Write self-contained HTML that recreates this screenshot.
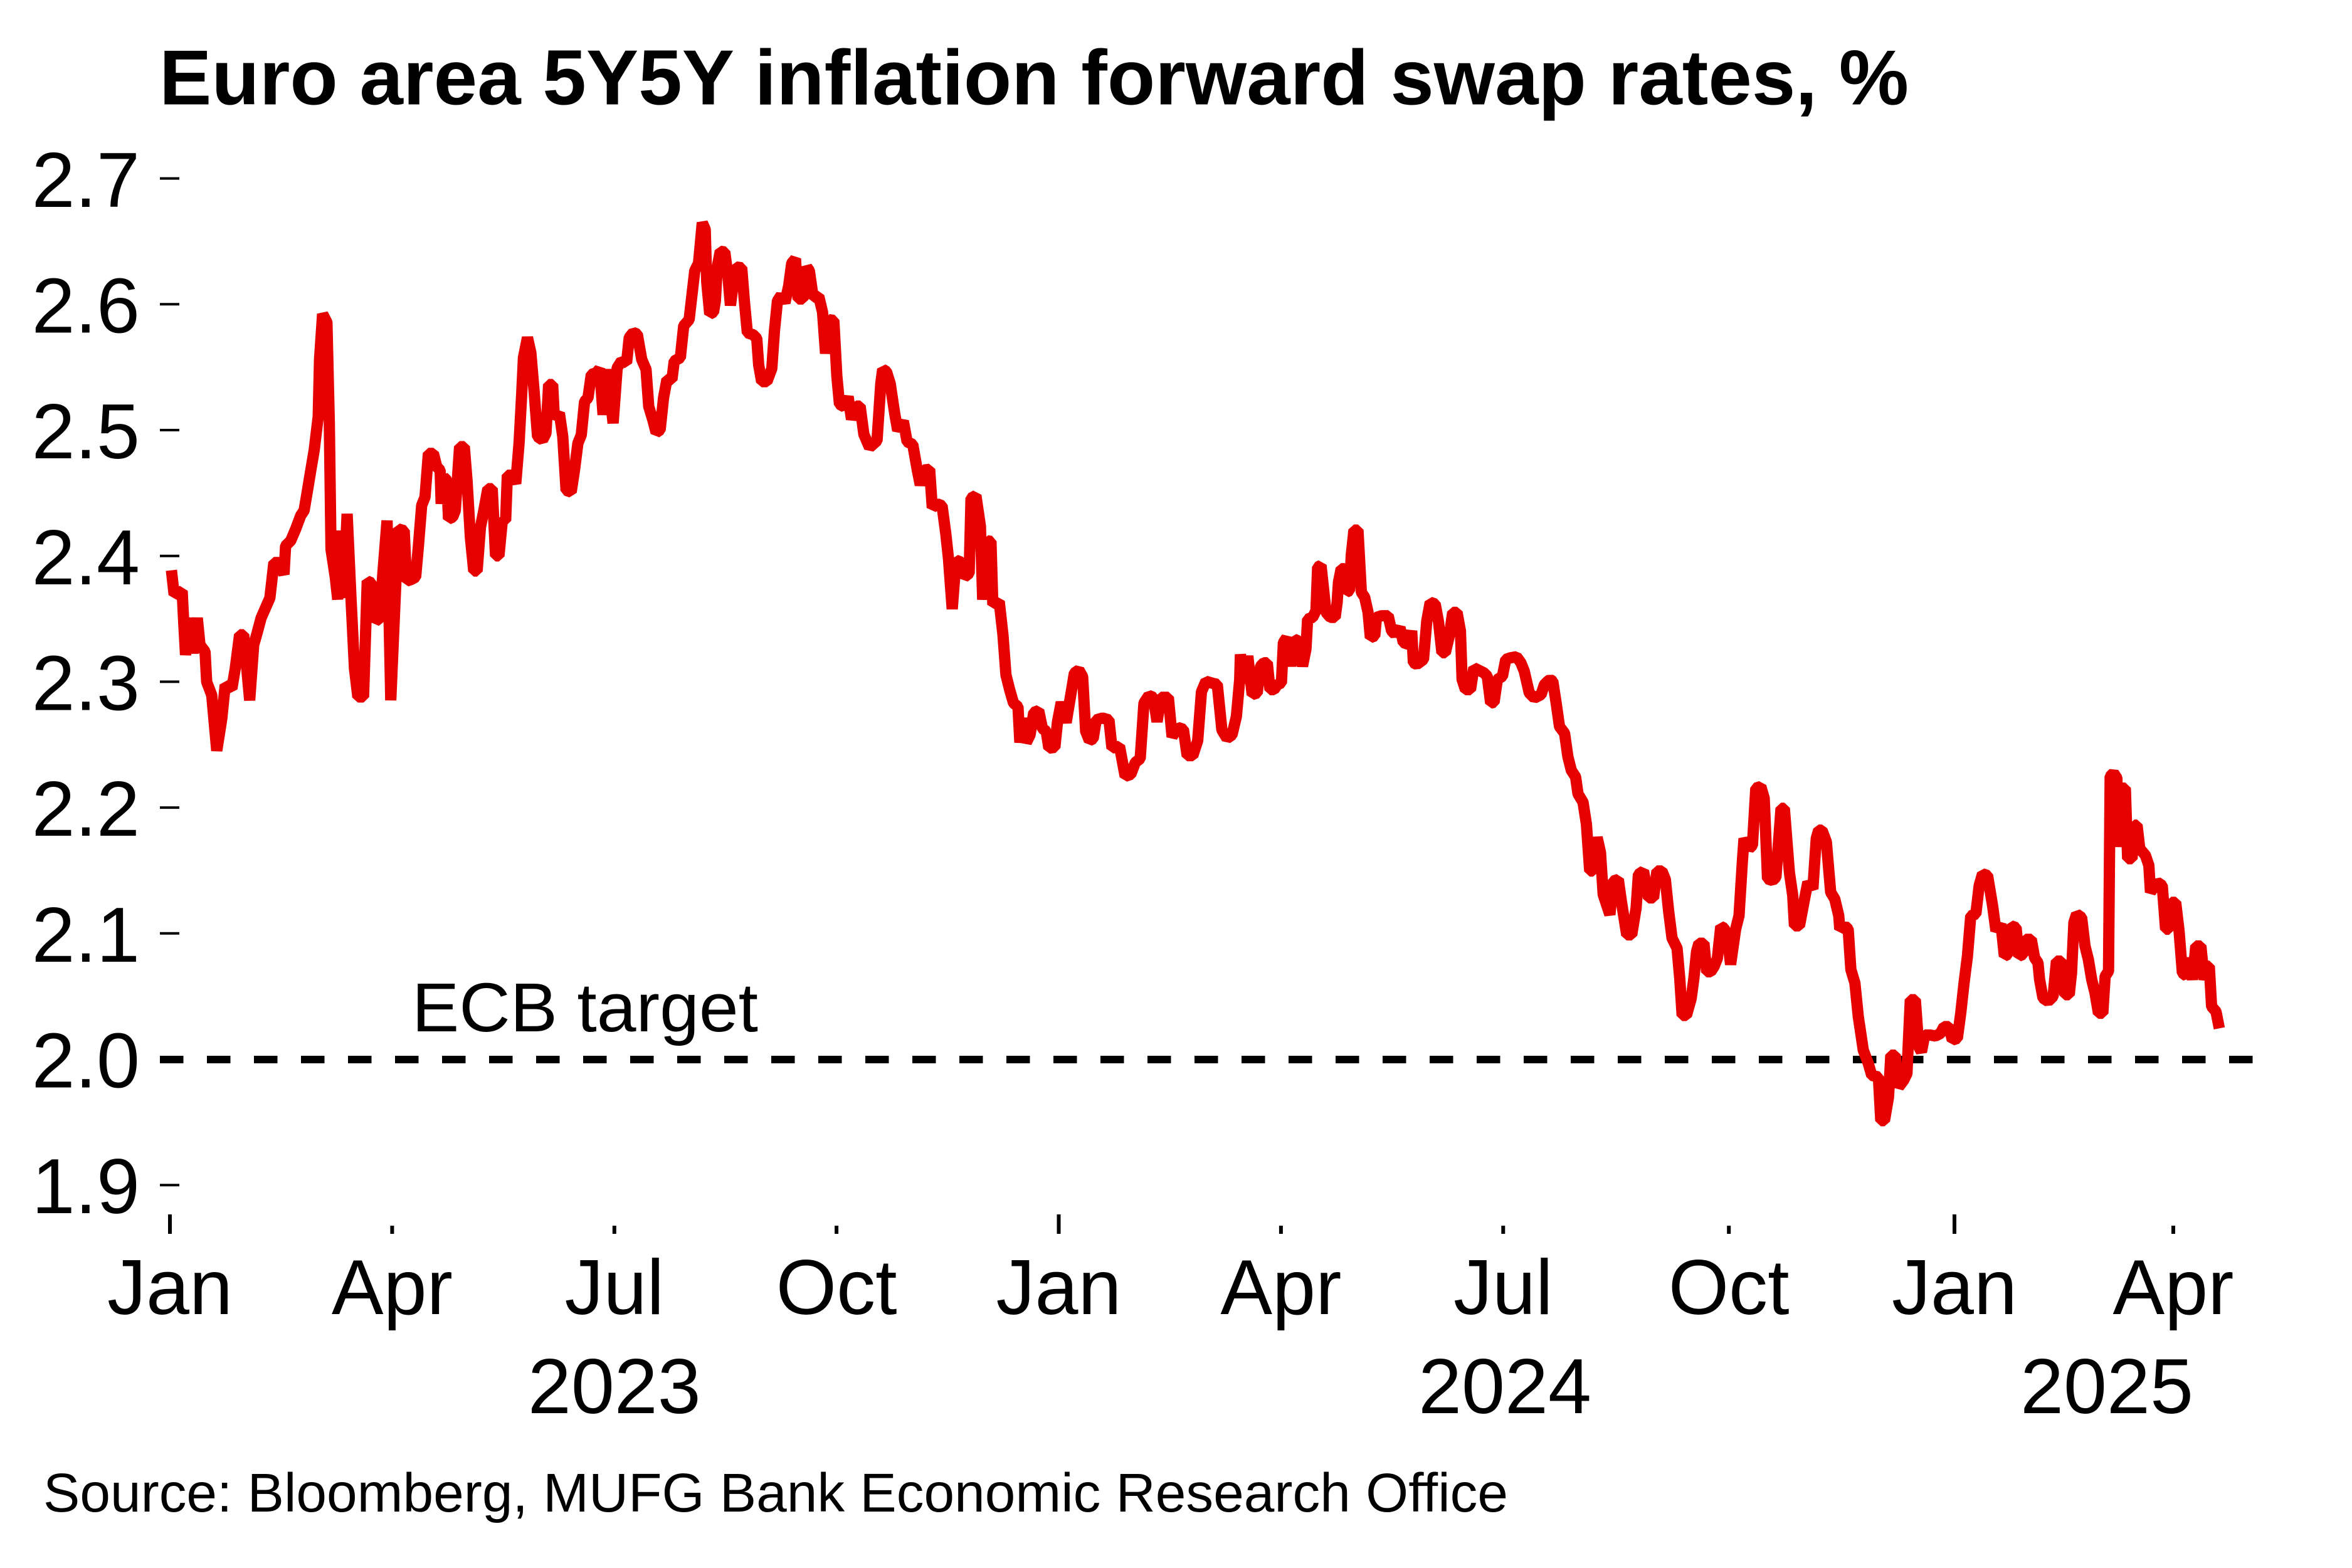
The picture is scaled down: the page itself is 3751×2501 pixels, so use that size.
<!DOCTYPE html>
<html>
<head>
<meta charset="utf-8">
<style>
  html, body { margin: 0; padding: 0; background: #ffffff; }
  svg { display: block; }
  text { font-family: "Liberation Sans", Arial, sans-serif; fill: #000; }
</style>
</head>
<body>
<svg width="3751" height="2501" viewBox="0 0 3751 2501" xmlns="http://www.w3.org/2000/svg">
  <rect x="0" y="0" width="3751" height="2501" fill="#ffffff"/>

  <!-- Title -->
  <text x="254" y="166.5" font-size="124.5" font-weight="bold" textLength="2790" lengthAdjust="spacingAndGlyphs">Euro area 5Y5Y inflation forward swap rates, %</text>

  <!-- Y tick marks -->
  <g stroke="#000" stroke-width="4">
    <line x1="255" y1="284.6" x2="286" y2="284.6"/>
    <line x1="255" y1="485.3" x2="286" y2="485.3"/>
    <line x1="255" y1="686" x2="286" y2="686"/>
    <line x1="255" y1="886.7" x2="286" y2="886.7"/>
    <line x1="255" y1="1087.4" x2="286" y2="1087.4"/>
    <line x1="255" y1="1288.1" x2="286" y2="1288.1"/>
    <line x1="255" y1="1488.8" x2="286" y2="1488.8"/>
    <line x1="255" y1="1890.2" x2="286" y2="1890.2"/>
  </g>

  <!-- Y labels -->
  <g font-size="124" text-anchor="end">
    <text x="223" y="330">2.7</text>
    <text x="223" y="530.5">2.6</text>
    <text x="223" y="731">2.5</text>
    <text x="223" y="932">2.4</text>
    <text x="223" y="1132.5">2.3</text>
    <text x="223" y="1333">2.2</text>
    <text x="223" y="1534">2.1</text>
    <text x="223" y="1734.5">2.0</text>
    <text x="223" y="1935">1.9</text>
  </g>

  <!-- X tick marks -->
  <g stroke="#000" stroke-width="6">
    <line x1="271" y1="1937" x2="271" y2="1968"/>
    <line x1="625.4" y1="1955" x2="625.4" y2="1968"/>
    <line x1="979.8" y1="1955" x2="979.8" y2="1968"/>
    <line x1="1334.1" y1="1955" x2="1334.1" y2="1968"/>
    <line x1="1688.5" y1="1937" x2="1688.5" y2="1968"/>
    <line x1="2042.9" y1="1955" x2="2042.9" y2="1968"/>
    <line x1="2397.3" y1="1955" x2="2397.3" y2="1968"/>
    <line x1="2757.2" y1="1955" x2="2757.2" y2="1968"/>
    <line x1="3117" y1="1937" x2="3117" y2="1968"/>
    <line x1="3466" y1="1955" x2="3466" y2="1968"/>
  </g>

  <!-- Month labels -->
  <g font-size="124" text-anchor="middle">
    <text x="271" y="2096">Jan</text>
    <text x="625.4" y="2096">Apr</text>
    <text x="979.8" y="2096">Jul</text>
    <text x="1334.1" y="2096">Oct</text>
    <text x="1688.5" y="2096">Jan</text>
    <text x="2042.9" y="2096">Apr</text>
    <text x="2397.3" y="2096">Jul</text>
    <text x="2757.2" y="2096">Oct</text>
    <text x="3117" y="2096">Jan</text>
    <text x="3466" y="2096">Apr</text>
  </g>

  <!-- Year labels -->
  <g font-size="124" text-anchor="middle">
    <text x="979.8" y="2254">2023</text>
    <text x="2400" y="2254">2024</text>
    <text x="3360" y="2254">2025</text>
  </g>

  <!-- ECB target dashed line -->
  <line x1="255" y1="1690" x2="3593" y2="1690" stroke="#000" stroke-width="12" stroke-dasharray="37.5 37.5"/>
  <text x="657" y="1645" font-size="110" textLength="552" lengthAdjust="spacingAndGlyphs">ECB target</text>

  <!-- Series -->
  <polyline fill="none" stroke="#e60000" stroke-width="18" stroke-linejoin="bevel" stroke-linecap="butt" points="
273.4,909.6 277.7,948.2 290.5,942.8 293.2,996.4 295.9,1044.6 302.9,985.7 308.2,1041.9 314.6,985.7 318.9,1028.6 327.0,1039.3 329.6,1087.5 337.7,1108.9 345.7,1197.3 353.7,1146.4 359.1,1092.8 369.8,1098.2 375.2,1066.1 382.1,1012.5 388.6,1012.5 398.2,1117.0 404.6,1028.6 410.0,1009.8 416.4,985.7 423.4,969.6 430.4,953.6 436.8,897.3 444.8,897.3 452.9,916.1 455.5,870.5 463.6,862.5 471.6,843.7 479.6,822.3 485.0,814.3 490.4,782.1 495.7,750.0 501.1,717.9 507.5,664.3 509.6,573.2 514.5,500.9 521.4,514.3 525.2,675.0 527.9,875.9 534.8,921.4 538.6,956.2 541.2,846.4 547.7,953.6 553.6,819.6 560.0,958.9 565.3,1066.1 570.7,1111.6 579.8,1111.6 585.7,926.8 592.1,929.5 598.6,991.1 605.5,985.7 610.9,910.7 617.3,830.3 623.2,1117.0 635.0,843.7 644.6,846.4 648.4,926.8 656.4,924.1 662.9,920.3 667.1,873.2 672.5,806.2 677.8,792.8 683.2,723.2 691.2,723.2 696.6,744.6 701.9,750.0 703.6,803.6 707.3,760.7 712.7,766.1 715.3,827.7 721.8,825.0 726.1,814.3 733.0,712.5 740.5,712.5 744.8,766.1 750.2,857.1 755.5,910.7 760.9,910.7 766.2,841.1 771.6,814.3 778.0,779.5 785.0,779.5 790.3,886.6 795.7,886.6 801.1,830.3 806.4,830.3 809.1,758.0 817.1,758.0 822.5,771.4 827.8,707.1 832.1,626.8 834.8,570.5 841.2,538.4 846.6,562.5 852.0,626.8 857.3,696.4 865.3,701.8 870.7,691.1 875.0,613.4 881.4,613.4 884.1,667.0 892.1,658.9 897.5,696.4 902.8,782.1 910.9,784.8 916.2,750.0 921.6,707.1 927.0,693.7 932.3,640.2 937.7,634.8 943.0,597.3 951.1,594.6 956.4,588.2 961.8,661.6 968.2,589.3 977.8,675.0 984.3,586.6 991.2,575.9 999.3,578.6 1003.5,538.4 1010.0,530.4 1016.4,533.0 1023.4,573.2 1030.3,589.3 1034.6,648.2 1041.1,669.6 1046.4,690.0 1052.8,685.7 1058.2,634.8 1063.6,605.4 1071.6,605.4 1075.3,575.9 1085.0,570.5 1090.4,519.6
1099.0,509.9 1108.0,431.9 1114.0,419.9 1120.0,355.2 1124.7,366.0 1127.1,449.9 1131.9,500.9 1137.9,497.9 1140.9,479.9 1143.9,425.9 1148.7,400.7 1155.9,401.9 1160.7,437.9 1164.9,487.1 1169.7,449.9 1173.9,425.9 1182.9,427.1 1187.1,479.9 1191.9,530.8 1200.9,533.8 1206.9,539.8 1209.9,581.8 1214.7,608.8 1223.1,608.8 1230.9,587.8 1235.1,527.8 1239.9,479.9 1245.8,470.9 1251.8,482.9 1257.8,455.9 1262.6,419.9 1268.6,412.7 1272.8,476.9 1280.6,476.9 1286.6,425.9 1290.8,431.9 1296.8,473.9 1305.8,472.7 1311.8,497.9 1316.6,563.8 1322.0,509.9 1329.8,511.0 1334.6,599.8 1338.8,644.7 1346.6,648.9 1352.6,632.7 1358.0,668.7 1365.7,647.7 1371.7,647.7 1377.7,692.7 1386.7,713.7 1398.7,702.9 1404.7,611.8 1407.7,589.0 1413.7,592.6 1419.7,611.8 1426.9,659.7 1431.7,686.7 1440.7,671.7 1446.7,704.7 1455.7,708.9 1462.9,749.7 1467.7,773.6 1473.7,749.7 1482.6,748.5 1486.8,809.6 1494.6,803.6 1502.4,806.6 1508.4,851.6 1512.6,890.5 1518.6,971.5 1524.6,893.5 1532.4,896.5 1537.8,920.5 1545.6,914.5 1548.6,794.6 1556.4,790.4 1563.6,839.6 1567.2,956.5 1574.4,862.4 1580.4,863.6 1583.4,964.3 1593.6,959.5 1599.6,1013.4 1604.3,1076.4 1610.3,1100.4 1616.3,1121.3 1623.5,1127.3 1626.5,1184.3 1632.5,1145.3 1636.7,1184.3 1642.7,1172.3 1648.7,1136.3 1656.5,1133.3 1662.5,1162.1 1668.5,1166.3 1672.7,1193.3 1682.3,1192.1 1686.5,1151.3 1692.5,1120.1 1700.3,1152.5 1707.5,1109.4 1713.5,1073.4 1720.6,1068.6 1726.6,1079.4 1731.4,1166.3 1737.4,1181.3 1743.4,1178.3 1748.2,1148.3 1758.4,1145.3 1768.6,1148.3 1773.4,1193.3 1785.4,1190.3 1794.4,1238.2 1803.4,1235.2 1810.6,1216.1 1818.4,1210.1 1824.4,1121.3 1832.2,1109.4 1839.4,1112.3 1845.3,1151.3 1851.3,1112.3 1863.3,1112.3 1869.3,1175.3 1878.3,1160.3 1887.3,1163.3 1893.3,1205.3 1902.3,1205.3 1910.1,1181.3 1916.1,1103.4 1923.3,1086.6 1935.3,1090.2 1941.3,1091.4
1948.7,1164.3 1956.8,1177.7 1964.8,1172.3 1971.8,1142.8 1977.1,1083.9 1978.2,1043.7 1983.6,1089.3 1990.0,1046.4 1997.0,1108.0 2005.0,1105.3 2010.4,1062.5 2015.7,1057.1 2021.1,1057.1 2025.4,1100.0 2031.8,1100.0 2037.1,1092.0 2043.6,1089.3 2046.8,1025.0 2052.1,1017.0 2058.6,1062.5 2063.9,1019.6 2070.4,1022.3 2077.3,1062.5 2082.7,1035.7 2085.4,987.5 2093.4,984.8 2098.7,974.1 2101.4,904.5 2106.8,901.8 2114.8,976.8 2121.8,984.8 2129.3,984.8 2132.5,960.7 2134.6,928.6 2138.9,907.1 2144.3,907.1 2147.0,944.6 2152.3,942.0 2155.0,885.7 2159.3,845.5 2165.7,845.5 2171.1,944.6 2176.4,952.7 2181.8,976.8 2185.5,1017.0 2192.5,1014.3 2195.2,984.8 2203.2,982.1 2213.9,982.1 2219.3,1006.2 2224.6,1011.6 2232.7,1000.9 2238.0,1025.0 2246.1,1027.7 2251.4,1006.2 2254.1,1057.1 2259.5,1059.8 2270.2,1051.8 2275.5,990.2 2280.9,960.7 2288.9,963.4 2294.3,992.9 2299.6,1041.1 2305.0,1041.1 2311.4,1014.3 2316.8,976.8 2323.7,976.8 2329.1,1006.2 2331.8,1083.9 2337.1,1100.0 2345.2,1100.0 2350.5,1065.2 2361.2,1070.5 2366.6,1073.2 2371.9,1078.6 2377.3,1121.4 2382.7,1120.3 2388.0,1083.9 2396.1,1078.6 2401.4,1051.8 2409.5,1049.1 2418.6,1047.5 2425.5,1057.1 2430.9,1070.5 2438.9,1105.3 2447.0,1113.4 2457.7,1108.0 2463.0,1092.0 2468.4,1086.6 2472.1,1083.9 2476.4,1086.6 2481.8,1121.4 2487.1,1158.9 2495.2,1169.6 2500.5,1207.1 2505.9,1228.6 2512.8,1239.3 2516.6,1266.1 2524.6,1279.5 2530.0,1314.3 2535.3,1389.3 2540.7,1389.3 2547.1,1335.7 2552.5,1359.8 2556.8,1426.8 2562.1,1442.8 2567.5,1458.9 2572.8,1405.3 2580.9,1402.7 2586.2,1440.2 2594.3,1491.1 2602.3,1491.1 2609.3,1448.2 2613.0,1394.6 2621.1,1389.3 2629.1,1432.1 2637.1,1432.1 2642.5,1389.3 2650.5,1389.3 2655.9,1402.7 2661.2,1453.6 2666.6,1496.4 2674.6,1512.5 2678.9,1560.7 2682.7,1619.6 2689.6,1619.6 2697.1,1592.8 2701.4,1560.7 2705.7,1517.8 2709.4,1504.5 2717.5,1504.5 2721.8,1550.0 2728.2,1550.0 2733.5,1541.9 2738.9,1528.6 2744.3,1477.7 2749.6,1480.3 2755.0,1496.4 2760.0,1538.4
2768.0,1482.1 2773.4,1460.7 2778.7,1375.0 2781.4,1337.5 2789.5,1353.6 2794.8,1348.2 2800.2,1257.1 2808.2,1254.5 2813.6,1273.2 2818.9,1401.8 2827.0,1404.5 2832.3,1399.1 2840.4,1289.3 2845.7,1289.3 2853.7,1391.1 2859.1,1428.6 2861.8,1476.8 2869.8,1476.8 2877.9,1433.9 2883.2,1407.1 2891.2,1417.8 2896.6,1337.5 2900.4,1324.1 2905.7,1324.1 2912.7,1342.8 2919.6,1423.2 2926.1,1433.9 2932.5,1460.7 2934.1,1482.1 2942.1,1476.8 2947.5,1482.1 2951.8,1546.4 2958.2,1567.8 2963.6,1621.4 2971.6,1675.0 2979.6,1696.4 2985.0,1715.2 2995.7,1717.8 2999.5,1787.5 3005.4,1787.5 3011.8,1750.0 3015.5,1683.0 3022.5,1683.0 3027.9,1733.9 3035.9,1723.2 3041.2,1712.5 3046.6,1594.6 3054.6,1594.6 3060.0,1669.6 3064.3,1677.7 3069.6,1650.9 3078.7,1650.9 3086.8,1652.5 3094.8,1648.2 3100.2,1637.5 3108.2,1637.5 3113.6,1658.9 3121.6,1656.2 3127.0,1616.1 3132.3,1567.8 3137.7,1525.0 3143.0,1460.7 3151.1,1458.0 3156.4,1412.5 3161.8,1393.8 3169.8,1396.4 3177.8,1444.6 3183.2,1484.8 3191.2,1474.1 3196.6,1525.0 3202.0,1522.3 3207.3,1476.8 3215.3,1479.5 3219.6,1525.0 3226.1,1522.3 3230.3,1498.2 3239.5,1498.2 3244.8,1527.7 3250.2,1535.7 3252.8,1562.5 3258.2,1592.0 3266.2,1597.3 3274.3,1589.3 3279.6,1533.0 3287.7,1533.0 3293.0,1586.6 3300.0,1586.6 3303.7,1551.8 3307.5,1471.4 3311.8,1458.0 3319.8,1463.4 3325.2,1508.9 3330.5,1530.3 3335.9,1562.5 3341.2,1583.9 3346.6,1616.1 3353.6,1616.1 3357.3,1557.1 3362.7,1549.1 3365.3,1238.4 3370.7,1233.0 3376.1,1241.1 3377.1,1350.9 3382.5,1257.1 3389.5,1257.1 3393.2,1369.6 3400.2,1369.6 3403.9,1316.1 3408.2,1316.1 3412.5,1353.6 3421.6,1364.3 3427.0,1380.4 3429.6,1423.2 3440.3,1407.1 3448.4,1412.5 3453.7,1482.1 3459.1,1482.1 3462.8,1439.3 3469.8,1439.3 3475.2,1484.8 3480.5,1551.8 3487.5,1557.1 3491.2,1527.7 3496.6,1562.5 3501.9,1508.9 3510.0,1508.9 3515.3,1562.5 3520.7,1541.1 3523.4,1541.1 3527.1,1605.4 3534.1,1613.4 3539.4,1640.2"/>

  <!-- Source -->
  <text x="69" y="2411" font-size="87" textLength="2336" lengthAdjust="spacingAndGlyphs">Source: Bloomberg, MUFG Bank Economic Research Office</text>
</svg>
</body>
</html>
